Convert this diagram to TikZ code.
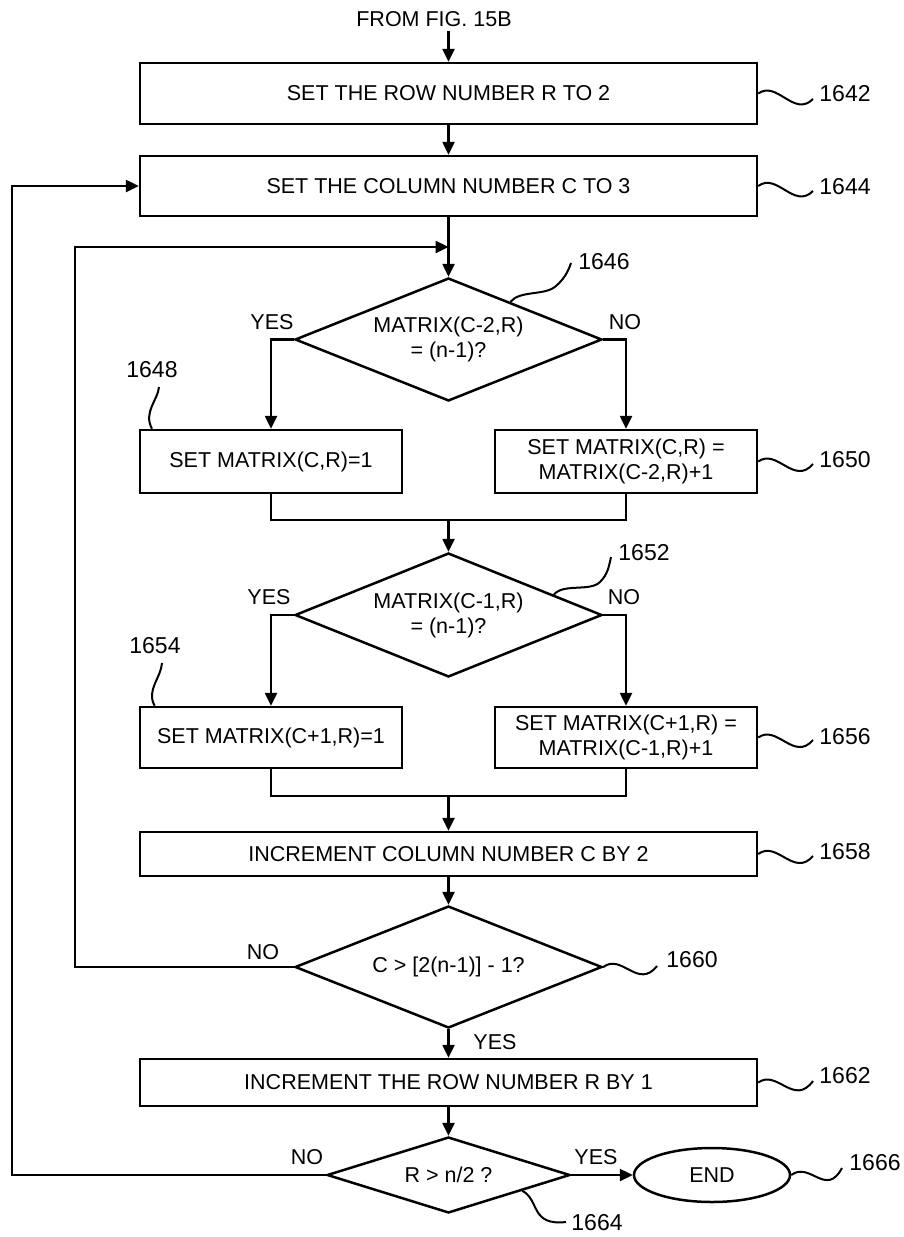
\documentclass[tikz,border=0pt]{standalone}
\usepackage{fontspec}
\setmainfont{Liberation Sans}
\usetikzlibrary{shapes.geometric,arrows.meta,calc}
\begin{document}
\begin{tikzpicture}[x=1pt,y=-1pt,
  every node/.style={font=\fontsize{21.5}{25}\selectfont, inner sep=0pt},
  box/.style={draw, line width=2.5pt, align=center},
  dec/.style={draw, diamond, line width=2.5pt, align=center, minimum width=307pt, shape aspect=2.5},
  lbl/.style={font=\fontsize{23}{26}\selectfont},
  ln/.style={line width=2.5pt},
  arr/.style={line width=2.5pt, -{Triangle[length=13pt,width=12pt]}},
  sq/.style={line width=2pt}]
\useasboundingbox (0,0) rectangle (903,1237);

% nodes
\node (from) at (434,19) {FROM FIG. 15B};
\coordinate (s0) at (448.5,31);
\node[box, minimum width=617pt, minimum height=61pt] (b1642) at (448.5,93.5) {SET THE ROW NUMBER R TO 2};
\node[box, minimum width=617pt, minimum height=60pt] (b1644) at (448.5,186) {SET THE COLUMN NUMBER C TO 3};
\node[dec, minimum height=123pt] (d1646) at (448.5,339.5) {MATRIX(C-2,R)\\= (n-1)?};
\node[box, minimum width=262pt, minimum height=63pt] (b1648) at (271,461.5) {SET MATRIX(C,R)=1};
\node[box, minimum width=262pt, minimum height=63pt] (b1650) at (626,461.5) {SET MATRIX(C,R) =\\MATRIX(C-2,R)+1};
\node[dec, minimum height=124pt] (d1652) at (448.5,615) {MATRIX(C-1,R)\\= (n-1)?};
\node[box, minimum width=262pt, minimum height=61pt] (b1654) at (271,737.5) {SET MATRIX(C+1,R)=1};
\node[box, minimum width=262pt, minimum height=61pt] (b1656) at (626,737.5) {SET MATRIX(C+1,R) =\\MATRIX(C-1,R)+1};
\node[box, minimum width=617pt, minimum height=44pt] (b1658) at (448.5,854) {INCREMENT COLUMN NUMBER C BY 2};
\node[dec, minimum height=122pt] (d1660) at (448.5,967) {C > [2(n-1)] - 1?};
\node[box, minimum width=617pt, minimum height=47pt] (b1662) at (448.5,1082.5) {INCREMENT THE ROW NUMBER R BY 1};
\node[dec, minimum width=243pt, minimum height=76pt, shape aspect=3.2] (d1664) at (448.5,1175) {R > n/2 ?};
\node[draw, ellipse, line width=2.5pt, minimum width=156pt, minimum height=54pt] (end) at (712,1175) {END};

% yes/no
\node (y1) at (272,322) {YES};
\node (n1) at (625,322) {NO};
\node (y2) at (269,597) {YES};
\node (n2) at (624,597) {NO};
\node (n3) at (263,952) {NO};
\node (y3) at (495,1042) {YES};
\node (n4) at (307,1157) {NO};
\node (y4) at (596,1157) {YES};

% connectors
\draw[arr] (s0) -- (b1642);
\draw[arr] (b1642) -- (b1644);
\draw[arr] (b1644) -- (d1646);
\draw[arr] (d1646.west) -| (b1648.north);
\draw[arr] (d1646.east) -| (b1650.north);
\coordinate (m1) at (448.5,520);
\draw[ln] (b1648.south) -- (b1648.south |- m1) -- (b1650.south |- m1) -- (b1650.south);
\draw[arr] (m1) -- (d1652.north);
\draw[arr] (d1652.west) -| (b1654.north);
\draw[arr] (d1652.east) -| (b1656.north);
\coordinate (m2) at (448.5,796);
\draw[ln] (b1654.south) -- (b1654.south |- m2) -- (b1656.south |- m2) -- (b1656.south);
\draw[arr] (m2) -- (b1658.north);
\draw[arr] (b1658) -- (d1660);
\draw[arr] (d1660) -- (b1662);
\draw[arr] (b1662) -- (d1664);
\draw[arr] (d1664) -- (end);
\coordinate (lp2) at (75,247);
\coordinate (j1) at (448.5,247);
\draw[arr] (d1660.west) -| (lp2) -- (j1);
\coordinate (lp1) at (12,186);
\draw[arr] (d1664.west) -| (lp1) -- (b1644.west);

% reference labels
\node[lbl] (l1642) at (845,94) {1642};
\coordinate (e1642) at (813,99);
\draw[sq] (b1642.east) .. controls (777,80) and (794,118) .. (e1642);
\node[lbl] (l1644) at (845,187) {1644};
\coordinate (e1644) at (813,191);
\draw[sq] (b1644.east) .. controls (777,172) and (794,210) .. (e1644);
\node[lbl] (l1650) at (845,460) {1650};
\coordinate (e1650) at (813,464);
\draw[sq] (b1650.east) .. controls (777,448) and (794,486) .. (e1650);
\node[lbl] (l1656) at (845,737) {1656};
\coordinate (e1656) at (813,740);
\draw[sq] (b1656.east) .. controls (777,724) and (794,762) .. (e1656);
\node[lbl] (l1658) at (845,852) {1658};
\coordinate (e1658) at (813,856);
\draw[sq] (b1658.east) .. controls (777,840) and (794,878) .. (e1658);
\node[lbl] (l1662) at (845,1076) {1662};
\coordinate (e1662) at (813,1081);
\draw[sq] (b1662.east) .. controls (777,1069) and (794,1107) .. (e1662);
\node[lbl] (l1660) at (692,960) {1660};
\coordinate (e1660) at (657,966);
\draw[sq] (d1660.east) .. controls (622,953) and (638,990) .. (e1660);
\node[lbl] (l1666) at (875,1163) {1666};
\coordinate (e1666) at (842,1168);
\draw[sq] (end.east) .. controls (810,1161) and (826,1198) .. (e1666);

\node[lbl] (l1646) at (604,262) {1646};
\coordinate (e1646) at (571,263);
\draw[sq] ($(d1646.north)!0.4!(d1646.east)$) .. controls (520,290) and (545,296) .. (556,286) .. controls (564,279) and (568,272) .. (e1646);
\node[lbl] (l1652) at (644,553) {1652};
\coordinate (e1652) at (611,557);
\draw[sq] ($(d1652.north)!0.68!(d1652.east)$) .. controls (563,583) and (590,592) .. (600,582) .. controls (608,574) and (609,566) .. (e1652);
\node[lbl] (l1648) at (152,370) {1648};
\coordinate (e1648) at (159,387);
\draw[sq] ($(b1648.north west)!0.05!(b1648.north east)$) .. controls (143,412) and (158,400) .. (e1648);
\node[lbl] (l1654) at (155,646) {1654};
\coordinate (e1654) at (162,663);
\draw[sq] ($(b1654.north west)!0.06!(b1654.north east)$) .. controls (146,690) and (161,678) .. (e1654);
\node[lbl] (l1664) at (597,1223) {1664};
\coordinate (e1664) at (566,1222);
\draw[sq] ($(d1664.east)!0.4!(d1664.south)$) .. controls (540,1200) and (530,1226) .. (e1664);
\end{tikzpicture}
\end{document}
